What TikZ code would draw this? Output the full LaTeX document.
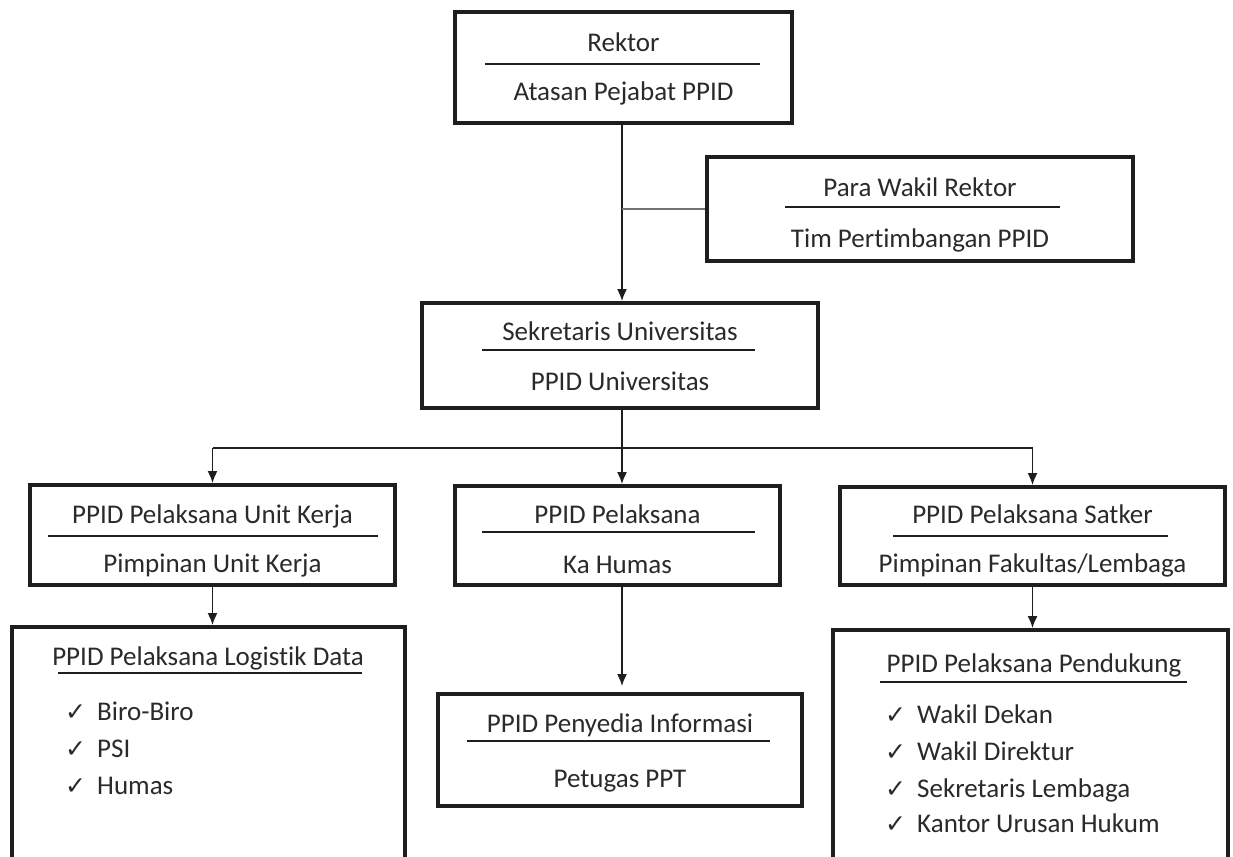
\documentclass[tikz,border=0pt]{standalone}
\usepackage{fontspec}
\setmainfont{Carlito}[Ligatures=NoCommon]
\newfontfamily\simbol{DejaVu Sans}
\usepackage{tikz}
\usetikzlibrary{arrows.meta,calc}
\tikzset{>={Latex[length=12pt,width=10pt]}}
\definecolor{tinta}{HTML}{2A2A2A}
\definecolor{bingkai}{HTML}{1E1E1E}
\tikzset{
  kotak/.style={draw=bingkai,line width=3.8pt,rectangle,inner sep=0pt},
  teks/.style={text=tinta,font=\fontsize{27}{32}\selectfont,inner sep=0pt,anchor=base},
  butir/.style={teks,anchor=base west},
  centang/.style={text=tinta,font=\simbol\fontsize{25}{28}\selectfont,inner sep=0pt,anchor=base west},
  sekat/.style={draw=bingkai,line width=2pt},
  panah/.style={draw=bingkai,line width=1.8pt,->},
  tipis/.style={draw=black!55,line width=1.2pt}
}

\begin{document}
\begin{tikzpicture}[x=1pt,y=-1pt]
	\fill[white] (0,0) rectangle (1233,856);
	\useasboundingbox (0,0) rectangle (1233,856);

	\node[kotak,minimum width=337pt,minimum height=111pt] (rektor) at (623.5,67.5) {};
	\node[teks] (rektor-a) at (623.5,52) {Rektor};
	\node[teks] (rektor-b) at (623.5,101) {Atasan Pejabat PPID};
	\draw[sekat] (485,64) -- (760,64);

	\node[kotak,minimum width=426pt,minimum height=104pt] (wakil) at (920,209) {};
	\node[teks] (wakil-a) at (920,196) {Para Wakil Rektor};
	\node[teks] (wakil-b) at (920,247) {Tim Pertimbangan PPID};
	\draw[sekat] (785,207) -- (1060,207);

	\node[kotak,minimum width=396pt,minimum height=105pt] (sekre) at (620,355.5) {};
	\node[teks] (sekre-a) at (620,340) {Sekretaris Universitas};
	\node[teks] (sekre-b) at (620,390) {PPID Universitas};
	\draw[sekat] (482,350) -- (755,350);

	\node[kotak,minimum width=365pt,minimum height=100pt] (unit) at (212.5,535) {};
	\node[teks] (unit-a) at (212.5,523) {PPID Pelaksana Unit Kerja};
	\node[teks] (unit-b) at (212.5,572) {Pimpinan Unit Kerja};
	\draw[sekat] (48,536) -- (378,536);

	\node[kotak,minimum width=325pt,minimum height=99pt] (pelaksana) at (617.5,535.5) {};
	\node[teks] (pelaksana-a) at (617.5,523) {PPID Pelaksana};
	\node[teks] (pelaksana-b) at (617.5,573) {Ka Humas};
	\draw[sekat] (482,532) -- (755,532);

	\node[kotak,minimum width=385pt,minimum height=98pt] (satker) at (1032.5,536) {};
	\node[teks] (satker-a) at (1032.5,523) {PPID Pelaksana Satker};
	\node[teks] (satker-b) at (1032.5,572) {Pimpinan Fakultas/Lembaga};
	\draw[sekat] (893,536) -- (1168,536);

	\node[kotak,minimum width=393pt,minimum height=233pt] (logistik) at (208.5,743.5) {};
	\node[teks] (logistik-a) at (208,665) {PPID Pelaksana Logistik Data};
	\draw[sekat] (58,673) -- (362,673);
	\foreach \i/\isi/\y in {1/Biro-Biro/720,2/PSI/757,3/Humas/794}{
		\node[centang] (logistik-c\i) at (65,\y) {✓};
		\node[butir] (logistik-\i) at (97,\y) {\isi};
	}

	\node[kotak,minimum width=364pt,minimum height=112pt] (penyedia) at (620,750) {};
	\node[teks] (penyedia-a) at (620,732) {PPID Penyedia Informasi};
	\node[teks] (penyedia-b) at (620,787) {Petugas PPT};
	\draw[sekat] (467,741) -- (770,741);

	\node[kotak,minimum width=395pt,minimum height=230pt] (pendukung) at (1030.5,745) {};
	\node[teks] (pendukung-a) at (1034,672) {PPID Pelaksana Pendukung};
	\draw[sekat] (880,682) -- (1187,682);
	\foreach \i/\isi/\y in {1/Wakil Dekan/723,2/Wakil Direktur/760,3/Sekretaris Lembaga/797,4/Kantor Urusan Hukum/832}{
		\node[centang] (pendukung-c\i) at (885,\y) {✓};
		\node[butir] (pendukung-\i) at (917,\y) {\isi};
	}

	\coordinate (bagi) at (622,448);
	\draw[panah] (rektor.south -| bagi) -- (sekre.north -| bagi);
	\draw[tipis] (wakil.west -| bagi) -- (wakil.west);
	\draw[draw=bingkai,line width=1.8pt] (sekre.south -| bagi) -- (bagi);
	\draw[draw=bingkai,line width=1.8pt] (unit.north |- bagi) -- (satker.north |- bagi);
	\draw[panah] (bagi) -- (pelaksana.north -| bagi);
	\draw[panah] (unit.north |- bagi) -- (unit.north);
	\draw[panah] (satker.north |- bagi) -- (satker.north);
	\draw[panah] (unit.south) -- (unit.south |- logistik.north);
	\draw[panah] (pelaksana.south -| bagi) -- ($(penyedia.north -| bagi)+(0,-6)$);
	\draw[panah] (satker.south) -- (satker.south |- pendukung.north);
\end{tikzpicture}
\end{document}
